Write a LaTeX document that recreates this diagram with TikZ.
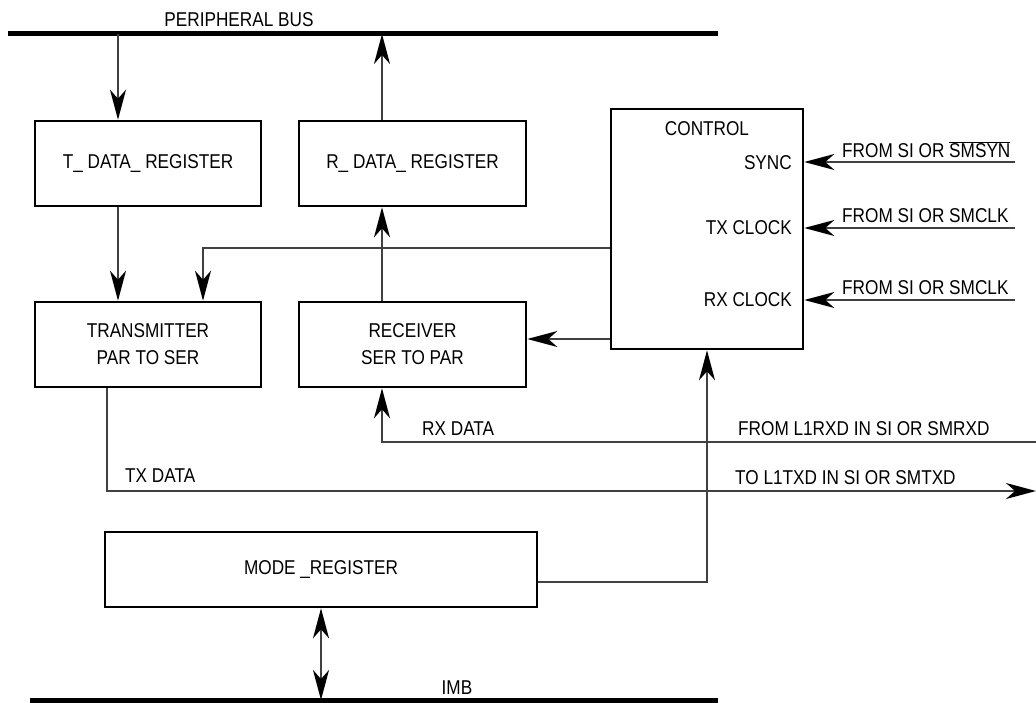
\documentclass[tikz,border=0pt]{standalone}
\usepackage{fontspec}
\setmainfont{Liberation Sans}[FakeStretch=0.86]
\usetikzlibrary{arrows.meta}

\tikzstyle{reg} = [draw=black, line width=2.6pt, align=center, inner sep=0pt]
\tikzstyle{lbl} = [inner sep=0pt]
\tikzstyle{wire} = [draw=black!75, line width=1.8pt]
\tikzstyle{arr} = [wire, -{Stealth[length=30pt,width=16pt,inset=9pt,black]}]
\tikzstyle{dbl} = [wire, {Stealth[length=30pt,width=16pt,inset=9pt,black]}-{Stealth[length=30pt,width=16pt,inset=9pt,black]}]
\tikzstyle{bus} = [draw=black, line width=5pt]

\begin{document}
\begin{tikzpicture}[x=1pt, y=-1pt, font=\fontsize{20}{27}\selectfont]
\useasboundingbox (0,0) rectangle (1036,703);
%busses
\coordinate (pbw) at (8,34);
\coordinate (pbe) at (718,34);
\coordinate (imbw) at (30,700);
\coordinate (imbe) at (718,700);
\draw[bus] (pbw) -- (pbe);
\draw[bus] (imbw) -- (imbe);
\node[lbl] (pblabel) at (239,20) {PERIPHERAL BUS};
\node[lbl, anchor=base] (imblabel) at (457,694) {IMB};
%registers
\node[reg, minimum width=226pt, minimum height=85pt] (tdata) at (148,163.5) {T\_ DATA\_ REGISTER};
\node[reg, minimum width=227pt, minimum height=85pt] (rdata) at (412.5,163.5) {R\_ DATA\_ REGISTER};
\node[reg, minimum width=226pt, minimum height=85pt] (trans) at (148,344.5) {TRANSMITTER\\PAR TO SER};
\node[reg, minimum width=227pt, minimum height=85pt] (recv) at (412.5,344.5) {RECEIVER\\SER TO PAR};
\node[reg, minimum width=432pt, minimum height=75pt] (mode) at (321,569.5) {MODE \_REGISTER};
%control
\node[reg, minimum width=192pt, minimum height=240pt] (ctrl) at (707,229) {};
\node[lbl] (ctrltitle) at (707,129) {CONTROL};
\node[lbl, anchor=east] (sync) at (792,163) {SYNC};
\node[lbl, anchor=east] (txclk) at (792,228) {TX CLOCK};
\node[lbl, anchor=east] (rxclk) at (792,300) {RX CLOCK};
%begin peripheral bus side
\coordinate (pb1) at (118,34);
\coordinate (pb2) at (382,34);
\draw[arr] (pb1) -- (pb1 |- tdata.north);
\draw[arr] (pb2 |- rdata.north) -- (pb2);
\draw[arr] (pb1 |- tdata.south) -- (pb1 |- trans.north);
\draw[arr] (pb2 |- recv.north) -- (pb2 |- rdata.south);
%end peripheral bus side
%begin control outputs
\draw[arr] (ctrl.west |- 0,248) -| ([xshift=55pt]trans.north);
\draw[arr] (ctrl.west |- 0,339) -- (recv.east |- 0,339);
\draw[arr] (mode.east |- 0,582) -| (ctrl.south);
%end control outputs
%begin control inputs
\coordinate (syncin) at (1015,162);
\coordinate (txclkin) at (1015,228);
\coordinate (rxclkin) at (1015,300);
\draw[arr] (syncin) -- (syncin -| ctrl.east);
\draw[arr] (txclkin) -- (txclkin -| ctrl.east);
\draw[arr] (rxclkin) -- (rxclkin -| ctrl.east);
\node[lbl, anchor=base west] (syncsrc) at (842,158) {FROM SI OR \(\overline{\mbox{SMSYN}}\)};
\node[lbl, anchor=base west] (txclksrc) at (842,223) {FROM SI OR SMCLK};
\node[lbl, anchor=base west] (rxclksrc) at (842,295) {FROM SI OR SMCLK};
%end control inputs
%begin serial data
\coordinate (rxin) at (1036,442);
\coordinate (rxup) at (382,442);
\draw[arr] (rxin) -- (rxup) -- (rxup |- recv.south);
\coordinate (txdown) at (107,491);
\coordinate (txout) at (1036,491);
\draw[arr] (txdown |- trans.south) -- (txdown) -- (txout);
\node[lbl, anchor=base west] (rxdata) at (422,435) {RX DATA};
\node[lbl, anchor=base west] (rxsrc) at (738,435) {FROM L1RXD IN SI OR SMRXD};
\node[lbl, anchor=base west] (txdata) at (125,482) {TX DATA};
\node[lbl, anchor=base west] (txdst) at (735,484) {TO L1TXD IN SI OR SMTXD};
%end serial data
%imb
\draw[dbl] (mode.south) -- (mode.south |- imbw);
\end{tikzpicture}
\end{document}
